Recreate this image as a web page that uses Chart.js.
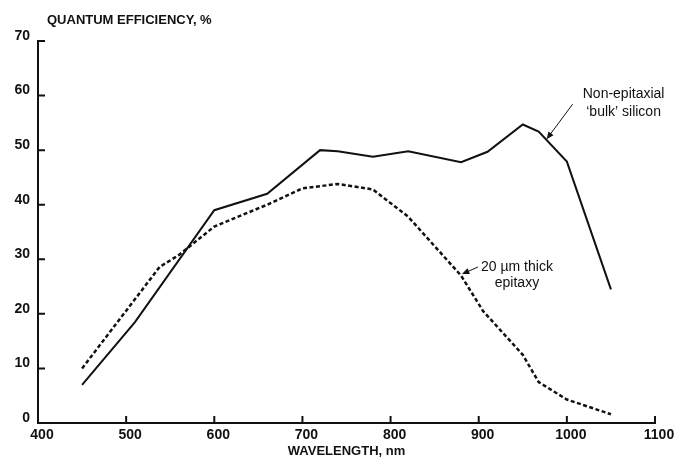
<!DOCTYPE html>
<html>
<head>
<meta charset="utf-8">
<title>Quantum efficiency vs wavelength</title>
<script src="https://cdn.jsdelivr.net/npm/chart.js@4.4.1/dist/chart.umd.min.js"></script>
<style>
    html, body { margin: 0; padding: 0; background: #fff; }
    #wrap { width: 679px; height: 466px; position: relative; }
</style>
</head>
<body>
<div id="wrap"><canvas id="qeChart"></canvas></div>
<script>
// bulk (non-epitaxial) silicon
const bulkWavelengths = [450, 510, 600, 660, 720, 740, 780, 820, 880, 910, 950, 968, 1000, 1050];
const bulkQE = [7, 18.5, 39, 42, 50, 49.8, 48.8, 49.8, 47.8, 49.7, 54.7, 53.4, 47.9, 24.5];

// 20 um epitaxial layer
const epiWavelengths = [450, 538, 560, 600, 660, 700, 740, 780, 820, 880, 905, 950, 968, 1000, 1050];
const epiQE = [10, 28.6, 30.8, 36, 40, 43, 43.8, 42.8, 37.8, 27, 20.5, 12.5, 7.5, 4.3, 1.6];

const xTicks = [400, 500, 600, 700, 800, 900, 1000, 1100];
const yTicks = [0, 10, 20, 30, 40, 50, 60, 70];

document.addEventListener('DOMContentLoaded', function() {
    const ctx = document.getElementById('qeChart').getContext('2d');
    const INK = '#111';

    function toPoints(xs, ys) {
        return xs.map((x, i) => ({ x: x, y: ys[i] }));
    }

    function arrow(c, x1, y1, x2, y2) {
        const ang = Math.atan2(y2 - y1, x2 - x1);
        const head = 8;
        c.beginPath();
        c.moveTo(x1, y1);
        c.lineTo(x2 - Math.cos(ang) * head * 0.8, y2 - Math.sin(ang) * head * 0.8);
        c.lineWidth = 1;
        c.strokeStyle = INK;
        c.stroke();
        c.beginPath();
        c.moveTo(x2, y2);
        c.lineTo(x2 - head * Math.cos(ang - 0.4), y2 - head * Math.sin(ang - 0.4));
        c.lineTo(x2 - head * Math.cos(ang + 0.4), y2 - head * Math.sin(ang + 0.4));
        c.closePath();
        c.fillStyle = INK;
        c.fill();
    }

    // tick marks point into the plot, like the old plotter style
    const inwardTicks = {
        id: 'inwardTicks',
        afterDraw: (chart) => {
            const { ctx: c, scales: { x, y } } = chart;
            c.save();
            c.strokeStyle = INK;
            c.lineWidth = 2;
            c.beginPath();
            xTicks.forEach(v => {
                const px = x.getPixelForValue(v);
                c.moveTo(px, y.bottom);
                c.lineTo(px, y.bottom - 7);
            });
            yTicks.forEach(v => {
                const py = y.getPixelForValue(v);
                c.moveTo(x.left, py);
                c.lineTo(x.left + 7, py);
            });
            c.stroke();
            c.restore();
        }
    };

    const labels = {
        id: 'labels',
        afterDraw: (chart) => {
            const { ctx: c, chartArea, scales: { x, y } } = chart;
            c.save();
            c.fillStyle = INK;
            c.textBaseline = 'middle';

            c.font = 'bold 13px "Liberation Sans", Arial, sans-serif';
            c.textAlign = 'left';
            c.fillText('QUANTUM EFFICIENCY, %', chartArea.left + 9, chartArea.top - 21);

            c.font = '14px "Liberation Sans", Arial, sans-serif';
            c.textAlign = 'center';

            // bulk silicon callout
            const bx = x.getPixelForValue(977), by = y.getPixelForValue(52);
            arrow(c, bx + 26, by - 35, bx, by);
            c.fillText('Non-epitaxial', bx + 77, by - 45);
            c.fillText('\u2018bulk\u2019 silicon', bx + 77, by - 27);

            // epitaxy callout
            const ex = x.getPixelForValue(881), ey = y.getPixelForValue(27.3);
            arrow(c, ex + 16, ey - 7, ex, ey);
            c.fillText('20 \u00b5m thick', ex + 55, ey - 7);
            c.fillText('epitaxy', ex + 55, ey + 9);
            c.restore();
        }
    };

    new Chart(ctx, {
        type: 'line',
        plugins: [inwardTicks, labels],
        data: {
            datasets: [{
                label: 'Non-epitaxial bulk silicon',
                data: toPoints(bulkWavelengths, bulkQE),
                borderColor: INK,
                borderWidth: 2,
                pointRadius: 0,
                tension: 0,
                fill: false
            }, {
                label: '20 um thick epitaxy',
                data: toPoints(epiWavelengths, epiQE),
                borderColor: INK,
                borderWidth: 2.5,
                borderDash: [4, 2.5],
                pointRadius: 0,
                tension: 0,
                fill: false
            }]
        },
        options: {
            responsive: true,
            maintainAspectRatio: false,
            animation: false,
            layout: {
                padding: { top: 41, right: 24, bottom: 0, left: 0 }
            },
            plugins: {
                legend: { display: false },
                tooltip: { enabled: false }
            },
            scales: {
                x: {
                    type: 'linear',
                    min: 400,
                    max: 1100,
                    afterBuildTicks: (s) => { s.ticks = xTicks.map(v => ({ value: v })); },
                    afterFit: (s) => {
                        s.height = 43;
                        s.paddingLeft = 0;
                        s.paddingRight = 0;
                    },
                    grid: { display: false, drawTicks: false },
                    border: { display: true, color: INK, width: 2 },
                    ticks: {
                        color: INK,
                        font: { family: '"Liberation Sans", Arial, sans-serif', size: 14, weight: 'bold' },
                        padding: 4,
                        labelOffset: 4,
                        maxRotation: 0,
                        autoSkip: false,
                        callback: (v) => String(v)
                    },
                    title: {
                        display: true,
                        text: 'WAVELENGTH, nm',
                        color: INK,
                        font: { family: '"Liberation Sans", Arial, sans-serif', size: 13, weight: 'bold' },
                        padding: { top: 0, bottom: 7 }
                    }
                },
                y: {
                    min: 0,
                    max: 70,
                    afterBuildTicks: (s) => { s.ticks = yTicks.map(v => ({ value: v })); },
                    afterFit: (s) => {
                        s.width = 38;
                        s.paddingTop = 0;
                        s.paddingBottom = 0;
                    },
                    grid: { display: false, drawTicks: false },
                    border: { display: true, color: INK, width: 2 },
                    ticks: {
                        color: INK,
                        font: { family: '"Liberation Sans", Arial, sans-serif', size: 14, weight: 'bold' },
                        padding: 8,
                        labelOffset: -5,
                        autoSkip: false,
                        callback: (v) => String(v)
                    }
                }
            }
        }
    });
});
</script>
</body>
</html>
